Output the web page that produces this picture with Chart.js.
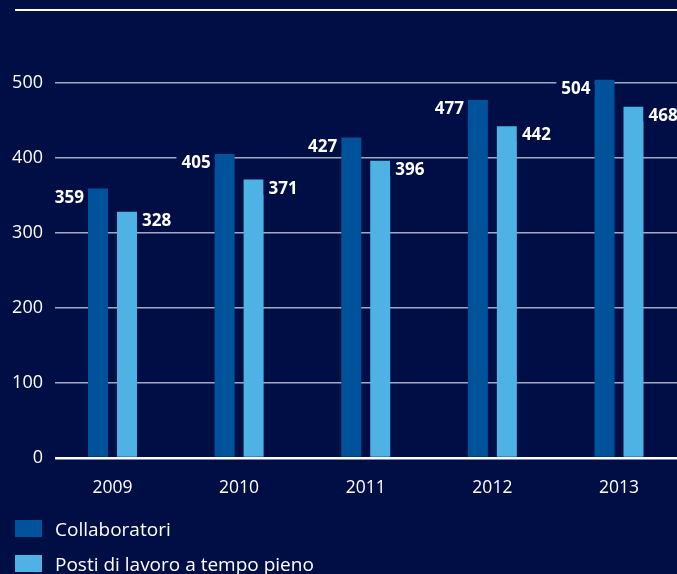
<!DOCTYPE html>
<html>
<head>
<meta charset="utf-8">
<script src="https://cdn.jsdelivr.net/npm/chart.js@4"></script>
<style>
  html, body { margin: 0; padding: 0; background: #000e46; overflow: hidden; }
  #wrap { position: relative; width: 677px; height: 574px; }
  #legend { position: absolute; left: 15px; top: 511px; font-family: "Open Sans", sans-serif; font-size: 19px; color: #fff; }
  .item { display: flex; align-items: center; height: 35px; }
  .box { width: 27px; height: 17px; margin-right: 13px; }
</style>
</head>
<body>
<div id="wrap">
  <canvas id="grafico" width="677" height="574"></canvas>
  <div id="legend"></div>
</div>
<script>
const years = [2009, 2010, 2011, 2012, 2013];
const collaboratori = [359, 405, 427, 477, 504];
const postiPieni = [328, 371, 396, 442, 468];
const yTicks = [0, 100, 200, 300, 400, 500];
const seriesNames = ["Collaboratori", "Posti di lavoro a tempo pieno"];
const seriesColors = ["#00529b", "#4fb2e4"];

const BG = "#000e46";
const FONT = '"Open Sans", sans-serif';

// numeri accanto alle barre
const etichette = {
    id: "etichette",
    afterDatasetsDraw(chart) {
        const ctx = chart.ctx;
        ctx.save();
        ctx.font = `bold 17px ${FONT}`;
        ctx.textBaseline = "alphabetic";
        chart.data.datasets.forEach((ds, di) => {
            chart.getDatasetMeta(di).data.forEach((bar, i) => {
                const txt = String(ds.data[i].y);
                const w = ctx.measureText(txt).width;
                const half = bar.width / 2;
                let x;
                if (di === 0) {
                    x = bar.x - half - 4 - w;
                } else {
                    x = bar.x + half + 5;
                }
                ctx.fillStyle = BG;
                ctx.fillRect(x - 5, bar.y - 1, w + 9, 16);
                ctx.fillStyle = "#fff";
                ctx.textAlign = "left";
                ctx.fillText(txt, x, bar.y + 14);
            });
        });
        ctx.restore();
    }
};

// linea bianca in alto
const lineaTop = {
    id: "lineaTop",
    beforeDraw(chart) {
        const ctx = chart.ctx;
        ctx.save();
        ctx.fillStyle = BG;
        ctx.fillRect(0, 0, chart.width, chart.height);
        ctx.strokeStyle = "#fff";
        ctx.lineWidth = 2;
        ctx.beginPath();
        ctx.moveTo(15, chart.chartArea.top);
        ctx.lineTo(chart.width, chart.chartArea.top);
        ctx.stroke();
        ctx.restore();
    }
};

const ctx = document.getElementById("grafico").getContext("2d");
new Chart(ctx, {
    type: "bar",
    data: {
        datasets: [
            {
                label: seriesNames[0],
                data: years.map((y, i) => ({ x: y, y: collaboratori[i] })),
                backgroundColor: seriesColors[0]
            },
            {
                label: seriesNames[1],
                data: years.map((y, i) => ({ x: y, y: postiPieni[i] })),
                backgroundColor: seriesColors[1]
            }
        ]
    },
    options: {
        responsive: false,
        animation: false,
        categoryPercentage: 0.458,
        barPercentage: 0.69,
        layout: { padding: { top: 10, right: 0, bottom: 76, left: 0 } },
        plugins: {
            legend: { display: false },
            tooltip: { enabled: false }
        },
        scales: {
            x: {
                type: "linear",
                offset: false,
                min: 2008.546,
                max: 2013.458,
                afterBuildTicks: s => { s.ticks = years.map(v => ({ value: v })); },
                afterFit: s => { s.height = 40; },
                grid: { display: false },
                border: { display: false },
                ticks: {
                    color: "#fff",
                    font: { family: FONT, size: 17.5 },
                    padding: 12,
                    callback: v => String(v)
                }
            },
            y: {
                min: 0,
                max: 597,
                afterBuildTicks: s => { s.ticks = yTicks.map(v => ({ value: v })); },
                afterFit: s => { s.width = 55; s.paddingTop = 0; s.paddingBottom = 0; },
                border: { display: false },
                grid: {
                    drawTicks: false,
                    color: c => c.tick.value === 0 ? "#ffffff" : "#a4a9c2",
                    lineWidth: c => c.tick.value === 0 ? 2.5 : 1.5
                },
                ticks: {
                    color: "#fff",
                    font: { family: FONT, size: 18 },
                    padding: 12
                }
            }
        }
    },
    plugins: [lineaTop, etichette]
});

// legenda html
const leg = document.getElementById("legend");
seriesNames.forEach((n, i) => {
    leg.innerHTML += `<div class="item"><div class="box" style="background:${seriesColors[i]}"></div><span>${n}</span></div>`;
});
</script>
</body>
</html>
